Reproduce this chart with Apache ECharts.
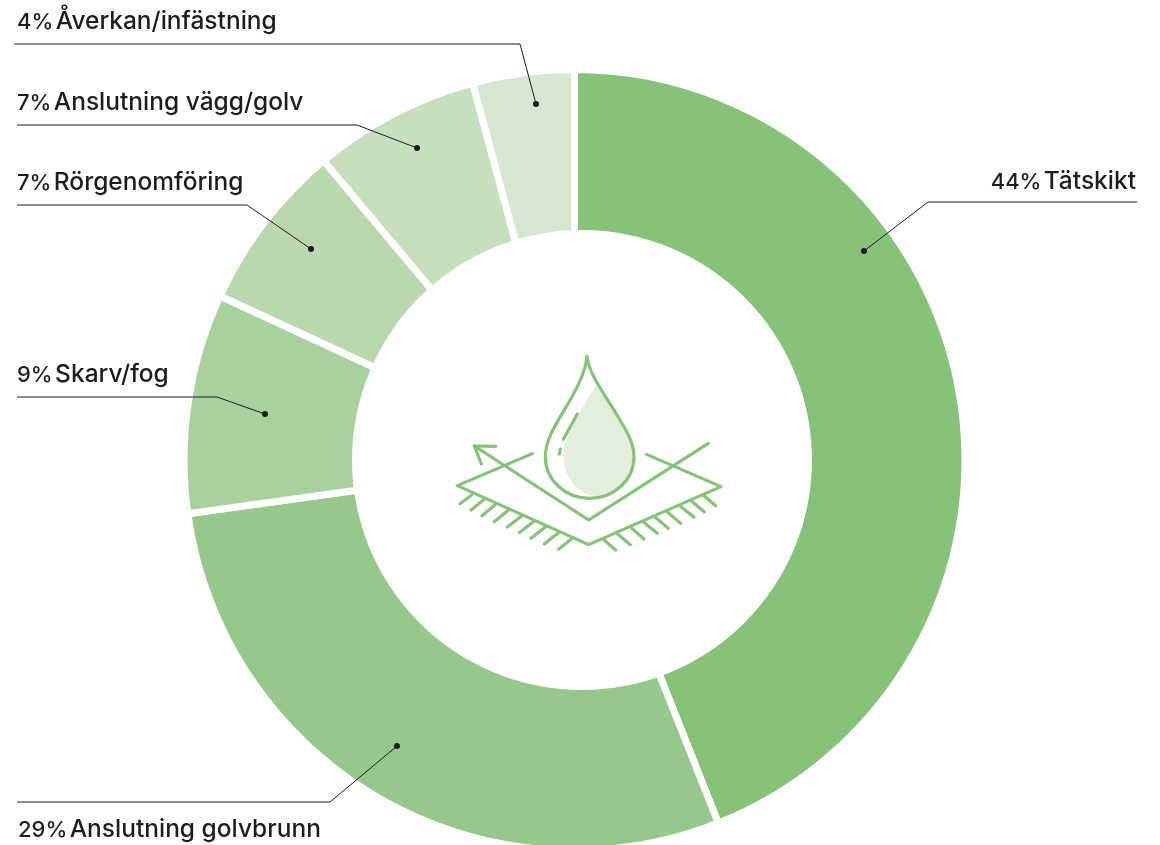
<!DOCTYPE html>
<html><head><meta charset="utf-8">
<style>html,body{margin:0;padding:0;background:#fff}#c{width:1160px;height:845px}</style>
<script src="https://cdn.jsdelivr.net/npm/echarts@6/dist/echarts.min.js"></script>
</head><body><div id="c"></div>
<script>
const names = ['Tätskikt','Anslutning golvbrunn','Skarv/fog','Rörgenomföring','Anslutning vägg/golv','Åverkan/infästning'];
// slice shares as read from the drawn slice boundaries; printed labels round these
const values = [44,28.8,9.1,7,6.9,4.2];
const colors = ['#86C278','#97C88B','#A9D19D','#B9D8AE','#C6E0BE','#D6E7D1'];
// annotation layout: text anchor, leader end, elbow, dot
const labelX = [1136,18,17,17,17,17];
const labelY = [182,830,375,183,103,22];
const lineEndX = [1137,17,17,17,17,14];
const elbows = [[928,202],[330,802],[217,397],[247,205],[357,125],[520,44]];
const dots = [[864,251],[397,746],[265,414],[311,249],[417,148],[536,104]];
const iconColor = '#86C278', iconFill = '#E3EEDD';
const iconLines = [
 [[103,318],[446,540],[805,310]],[[103,318],[167,319]],[[103,318],[124,372]],
 [[277,341],[52,437],[446,614],[843,440],[620,343]],
 [[412,222],[370,298]],[[361,327],[358,342]],
 [[95,465],[60,491]],[[130,480],[93,510]],[[165,494],[126,527]],[[205,511],[163,545]],[[244,529],[202,561]],[[280,545],[238,578]],[[316,561],[273,595]],[[355,578],[313,612]],[[395,596],[356,628]],
 [[490,598],[527,630]],[[530,580],[571,614]],[[572,562],[612,597]],[[610,546],[652,580]],[[645,531],[685,565]],[[682,516],[722,550]],[[720,498],[762,532]],[[755,484],[793,516]],[[790,466],[827,497]]
];
const dropFill = 'M468,135 C490,170 582,280 582,350 C582,420 522,470 460,468 C410,460 370,410 370,340 C372,290 430,200 468,135Z';
const dropLine = 'M441,48 C438,100 400,165 370,215 C340,265 316,305 316,350 C316,420 376,475 449,475 C522,475 582,420 582,350 C582,305 555,265 525,215 C495,165 445,100 441,48 Z';
echarts.graphic.registerShape('dropFillShape', echarts.graphic.extendPath(dropFill, {}));
echarts.graphic.registerShape('dropLineShape', echarts.graphic.extendPath(dropLine, {}));

const chart = echarts.init(document.getElementById('c'),null,{renderer:'canvas'});
const iconStyle = {stroke:iconColor,lineWidth:9.5,fill:null,lineCap:'round',lineJoin:'round'};
const textColor = '#1d1d1b', textFont = 'Inter';
chart.setOption({
 animation:false,
 backgroundColor:'#fff',
 series:[{
  type:'pie',
  center:[574.5,460],
  radius:[0,390.5],
  startAngle:90,
  clockwise:true,
  avoidLabelOverlap:false,
  silent:true,
  data:names.map((n,i)=>({name:n,value:values[i],itemStyle:{color:colors[i]}})),
  itemStyle:{borderColor:'#fff',borderWidth:7},
  label:{show:true,position:'outside',
    formatter:(p)=>`{n|${Math.round(p.value)}%}{s| }{t|${p.name}}`,
    fontFamily:textFont,color:textColor,
    rich:{
      n:{fontFamily:textFont,fontSize:22,fontWeight:500,color:textColor},
      s:{fontFamily:textFont,fontSize:9,fontWeight:500,color:textColor},
      t:{fontFamily:textFont,fontSize:24.5,fontWeight:500,color:textColor}
    }},
  labelLine:{show:false},
  labelLayout:(p)=>{
    const i=p.dataIndex;
    return {x:labelX[i],y:labelY[i],align:i===0?'right':'left',verticalAlign:'middle'};
  }
 }],
 graphic:[
  {type:'circle',z:40,shape:{cx:582,cy:460,r:230},style:{fill:'#fff'}},
  ...dots.map((d,i)=>({type:'polyline',z:99,shape:{points:[d,elbows[i],[lineEndX[i],elbows[i][1]]]},style:{stroke:'#1d1d1b',lineWidth:1,fill:null}})),
  ...dots.map(d=>({type:'circle',z:100,shape:{cx:d[0],cy:d[1],r:3},style:{fill:'#1d1d1b'}})),
  {type:'group',x:440,y:340,scaleX:1/3,scaleY:1/3,z:50,children:[
    {type:'dropFillShape',z:50,style:{fill:iconFill}},
    {type:'dropLineShape',z:51,style:iconStyle},
    ...iconLines.map(l=>({type:'polyline',z:51,shape:{points:l},style:iconStyle}))
  ]}
 ]
});
</script></body></html>
